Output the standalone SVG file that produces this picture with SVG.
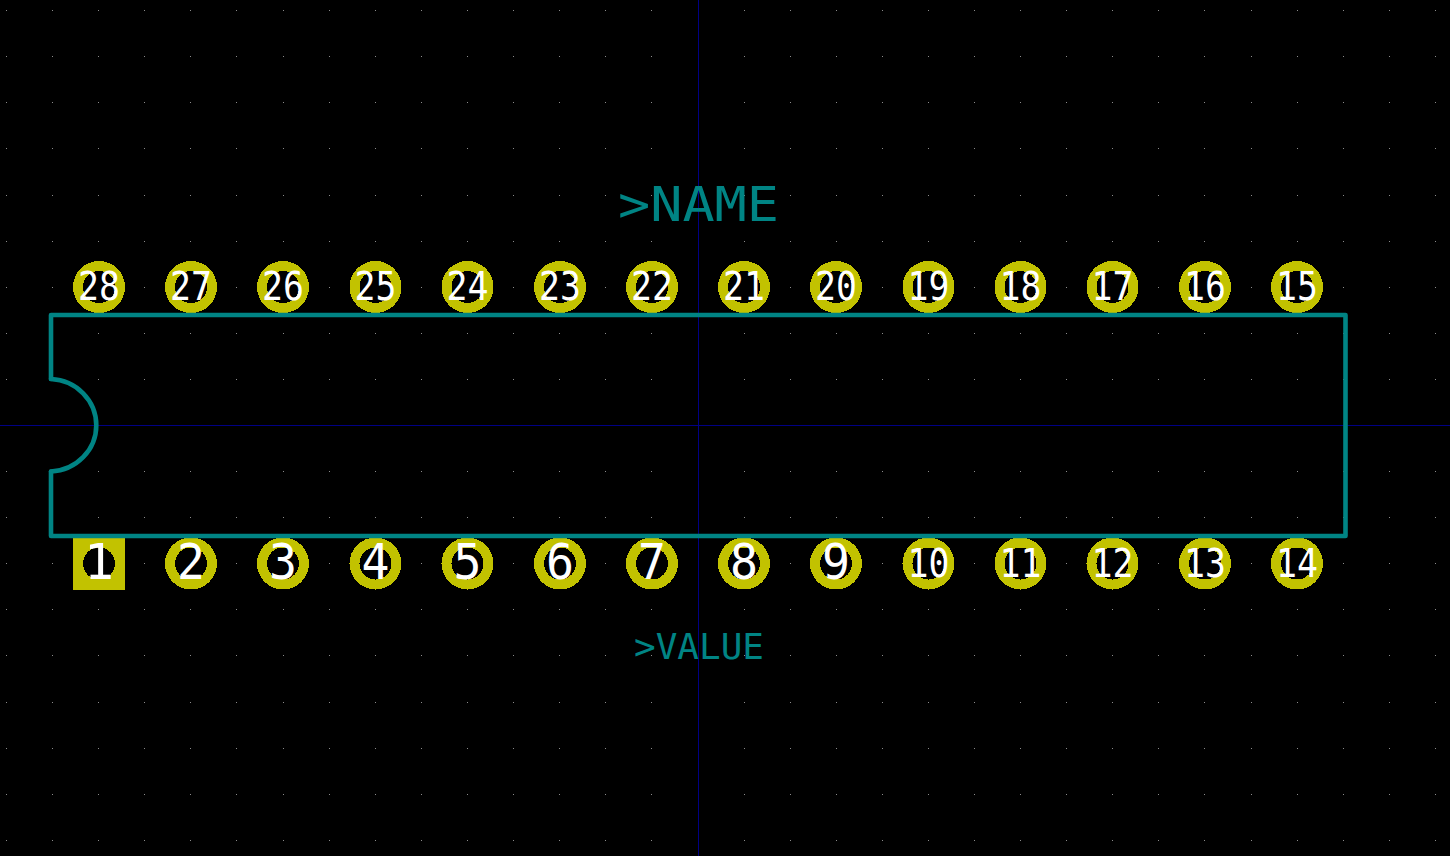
<svg xmlns="http://www.w3.org/2000/svg" width="1450" height="856" viewBox="0 0 1450 856">
<style>
.dot{fill:#8c8c8c;shape-rendering:crispEdges}
.y{fill:#c2c200;shape-rendering:crispEdges}
.h{fill:#000;shape-rendering:crispEdges}
.n{fill:#fff;font-family:"DejaVu Sans Mono",monospace;text-anchor:middle}
.d{font-size:38.5px}
.s{font-size:49.5px}
.out{fill:none;stroke:#008484;stroke-width:4.6;stroke-linecap:round;stroke-linejoin:round}
.lab{fill:#008484;font-family:"DejaVu Sans Mono",monospace}
.ax{stroke:#000084;stroke-width:1;shape-rendering:crispEdges}
</style>
<defs>
<g id="row"><rect class="dot" x="6" width="1" height="1"/><rect class="dot" x="52" width="1" height="1"/><rect class="dot" x="98" width="1" height="1"/><rect class="dot" x="144" width="1" height="1"/><rect class="dot" x="190" width="1" height="1"/><rect class="dot" x="236" width="1" height="1"/><rect class="dot" x="283" width="1" height="1"/><rect class="dot" x="329" width="1" height="1"/><rect class="dot" x="375" width="1" height="1"/><rect class="dot" x="421" width="1" height="1"/><rect class="dot" x="467" width="1" height="1"/><rect class="dot" x="513" width="1" height="1"/><rect class="dot" x="559" width="1" height="1"/><rect class="dot" x="605" width="1" height="1"/><rect class="dot" x="651" width="1" height="1"/><rect class="dot" x="698" width="1" height="1"/><rect class="dot" x="744" width="1" height="1"/><rect class="dot" x="790" width="1" height="1"/><rect class="dot" x="836" width="1" height="1"/><rect class="dot" x="882" width="1" height="1"/><rect class="dot" x="928" width="1" height="1"/><rect class="dot" x="974" width="1" height="1"/><rect class="dot" x="1020" width="1" height="1"/><rect class="dot" x="1066" width="1" height="1"/><rect class="dot" x="1112" width="1" height="1"/><rect class="dot" x="1158" width="1" height="1"/><rect class="dot" x="1204" width="1" height="1"/><rect class="dot" x="1251" width="1" height="1"/><rect class="dot" x="1297" width="1" height="1"/><rect class="dot" x="1343" width="1" height="1"/><rect class="dot" x="1389" width="1" height="1"/><rect class="dot" x="1435" width="1" height="1"/></g>
</defs>
<rect width="1450" height="856" fill="#000"/>
<g id="grid">
<use href="#row" y="10"/><use href="#row" y="56"/><use href="#row" y="102"/><use href="#row" y="148"/><use href="#row" y="195"/><use href="#row" y="241"/><use href="#row" y="287"/><use href="#row" y="333"/><use href="#row" y="379"/><use href="#row" y="425"/><use href="#row" y="471"/><use href="#row" y="517"/><use href="#row" y="563"/><use href="#row" y="609"/><use href="#row" y="655"/><use href="#row" y="702"/><use href="#row" y="748"/><use href="#row" y="794"/><use href="#row" y="840"/>
</g>
<g id="axes">
<line class="ax" x1="0" y1="425.5" x2="1450" y2="425.5"/>
<line class="ax" x1="698.5" y1="0" x2="698.5" y2="856"/>
</g>
<g id="pads">
<g id="pad-28"><circle class="y" cx="99" cy="287" r="26"/><circle class="h" cx="99" cy="287" r="16"/><text class="n d" x="99" y="300" textLength="42" lengthAdjust="spacingAndGlyphs">28</text></g>
<g id="pad-27"><circle class="y" cx="191" cy="287" r="26"/><circle class="h" cx="191" cy="287" r="16"/><text class="n d" x="191" y="300" textLength="42" lengthAdjust="spacingAndGlyphs">27</text></g>
<g id="pad-26"><circle class="y" cx="283" cy="287" r="26"/><circle class="h" cx="283" cy="287" r="16"/><text class="n d" x="283" y="300" textLength="42" lengthAdjust="spacingAndGlyphs">26</text></g>
<g id="pad-25"><circle class="y" cx="375.5" cy="287" r="26"/><circle class="h" cx="375.5" cy="287" r="16"/><text class="n d" x="375.5" y="300" textLength="42" lengthAdjust="spacingAndGlyphs">25</text></g>
<g id="pad-24"><circle class="y" cx="467.5" cy="287" r="26"/><circle class="h" cx="467.5" cy="287" r="16"/><text class="n d" x="467.5" y="300" textLength="42" lengthAdjust="spacingAndGlyphs">24</text></g>
<g id="pad-23"><circle class="y" cx="560" cy="287" r="26"/><circle class="h" cx="560" cy="287" r="16"/><text class="n d" x="560" y="300" textLength="42" lengthAdjust="spacingAndGlyphs">23</text></g>
<g id="pad-22"><circle class="y" cx="652" cy="287" r="26"/><circle class="h" cx="652" cy="287" r="16"/><text class="n d" x="652" y="300" textLength="42" lengthAdjust="spacingAndGlyphs">22</text></g>
<g id="pad-21"><circle class="y" cx="744" cy="287" r="26"/><circle class="h" cx="744" cy="287" r="16"/><text class="n d" x="744" y="300" textLength="42" lengthAdjust="spacingAndGlyphs">21</text></g>
<g id="pad-20"><circle class="y" cx="836" cy="287" r="26"/><circle class="h" cx="836" cy="287" r="16"/><text class="n d" x="836" y="300" textLength="42" lengthAdjust="spacingAndGlyphs">20</text></g>
<g id="pad-19"><circle class="y" cx="928.5" cy="287" r="26"/><circle class="h" cx="928.5" cy="287" r="16"/><text class="n d" x="928.5" y="300" textLength="42" lengthAdjust="spacingAndGlyphs">19</text></g>
<g id="pad-18"><circle class="y" cx="1020.5" cy="287" r="26"/><circle class="h" cx="1020.5" cy="287" r="16"/><text class="n d" x="1020.5" y="300" textLength="42" lengthAdjust="spacingAndGlyphs">18</text></g>
<g id="pad-17"><circle class="y" cx="1112.5" cy="287" r="26"/><circle class="h" cx="1112.5" cy="287" r="16"/><text class="n d" x="1112.5" y="300" textLength="42" lengthAdjust="spacingAndGlyphs">17</text></g>
<g id="pad-16"><circle class="y" cx="1205" cy="287" r="26"/><circle class="h" cx="1205" cy="287" r="16"/><text class="n d" x="1205" y="300" textLength="42" lengthAdjust="spacingAndGlyphs">16</text></g>
<g id="pad-15"><circle class="y" cx="1297" cy="287" r="26"/><circle class="h" cx="1297" cy="287" r="16"/><text class="n d" x="1297" y="300" textLength="42" lengthAdjust="spacingAndGlyphs">15</text></g>
<g id="pad-1"><rect class="y" x="73" y="538" width="52" height="52" rx="1"/><circle class="h" cx="99" cy="563.5" r="16"/><text class="n s" x="99" y="579" textLength="30" lengthAdjust="spacingAndGlyphs">1</text></g>
<g id="pad-2"><circle class="y" cx="191" cy="563.5" r="26"/><circle class="h" cx="191" cy="563.5" r="16"/><text class="n s" x="191" y="579" textLength="28" lengthAdjust="spacingAndGlyphs">2</text></g>
<g id="pad-3"><circle class="y" cx="283" cy="563.5" r="26"/><circle class="h" cx="283" cy="563.5" r="16"/><text class="n s" x="283" y="579" textLength="28" lengthAdjust="spacingAndGlyphs">3</text></g>
<g id="pad-4"><circle class="y" cx="375.5" cy="563.5" r="26"/><circle class="h" cx="375.5" cy="563.5" r="16"/><text class="n s" x="375.5" y="579" textLength="28" lengthAdjust="spacingAndGlyphs">4</text></g>
<g id="pad-5"><circle class="y" cx="467.5" cy="563.5" r="26"/><circle class="h" cx="467.5" cy="563.5" r="16"/><text class="n s" x="467.5" y="579" textLength="28" lengthAdjust="spacingAndGlyphs">5</text></g>
<g id="pad-6"><circle class="y" cx="560" cy="563.5" r="26"/><circle class="h" cx="560" cy="563.5" r="16"/><text class="n s" x="560" y="579" textLength="28" lengthAdjust="spacingAndGlyphs">6</text></g>
<g id="pad-7"><circle class="y" cx="652" cy="563.5" r="26"/><circle class="h" cx="652" cy="563.5" r="16"/><text class="n s" x="652" y="579" textLength="28" lengthAdjust="spacingAndGlyphs">7</text></g>
<g id="pad-8"><circle class="y" cx="744" cy="563.5" r="26"/><circle class="h" cx="744" cy="563.5" r="16"/><text class="n s" x="744" y="579" textLength="28" lengthAdjust="spacingAndGlyphs">8</text></g>
<g id="pad-9"><circle class="y" cx="836" cy="563.5" r="26"/><circle class="h" cx="836" cy="563.5" r="16"/><text class="n s" x="836" y="579" textLength="28" lengthAdjust="spacingAndGlyphs">9</text></g>
<g id="pad-10"><circle class="y" cx="928.5" cy="563.5" r="26"/><circle class="h" cx="928.5" cy="563.5" r="16"/><text class="n d" x="928.5" y="577" textLength="42" lengthAdjust="spacingAndGlyphs">10</text></g>
<g id="pad-11"><circle class="y" cx="1020.5" cy="563.5" r="26"/><circle class="h" cx="1020.5" cy="563.5" r="16"/><text class="n d" x="1020.5" y="577" textLength="42" lengthAdjust="spacingAndGlyphs">11</text></g>
<g id="pad-12"><circle class="y" cx="1112.5" cy="563.5" r="26"/><circle class="h" cx="1112.5" cy="563.5" r="16"/><text class="n d" x="1112.5" y="577" textLength="42" lengthAdjust="spacingAndGlyphs">12</text></g>
<g id="pad-13"><circle class="y" cx="1205" cy="563.5" r="26"/><circle class="h" cx="1205" cy="563.5" r="16"/><text class="n d" x="1205" y="577" textLength="42" lengthAdjust="spacingAndGlyphs">13</text></g>
<g id="pad-14"><circle class="y" cx="1297" cy="563.5" r="26"/><circle class="h" cx="1297" cy="563.5" r="16"/><text class="n d" x="1297" y="577" textLength="42" lengthAdjust="spacingAndGlyphs">14</text></g>
</g>
<g id="outline">
<path class="out" d="M51 379V315H1345.5V536H51V471.5"/>
<path class="out" d="M51 379A47.5 46.3 0 0 1 51 471.5"/>
</g>
<g id="labels">
<text id="name" class="lab" x="618" y="220.5" font-size="48" textLength="161" lengthAdjust="spacingAndGlyphs">&gt;NAME</text>
<text id="value" class="lab" x="634" y="658.5" font-size="36" textLength="130" lengthAdjust="spacingAndGlyphs">&gt;VALUE</text>
</g>
</svg>
